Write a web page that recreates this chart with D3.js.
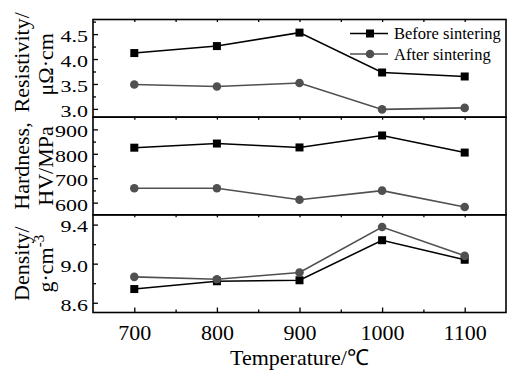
<!DOCTYPE html>
<html>
<head>
<meta charset="utf-8">
<script src="https://cdn.jsdelivr.net/npm/d3@7"></script>
<style>
  body { margin: 0; background: #fff; }
  svg { display: block; font-family: "Liberation Serif", "Times New Roman", serif; }
</style>
</head>
<body>
<div id="wrapper"></div>
<script>
// data
const temperatures = [700, 800, 900, 1000, 1100]
const resistivityBefore = [4.12, 4.26, 4.53, 3.73, 3.65]
const resistivityAfter = [3.49, 3.45, 3.52, 2.99, 3.02]
const hardnessBefore = [825, 842, 826, 875, 805]
const hardnessAfter = [659, 659, 612, 649, 582]
const densityBefore = [8.74, 8.82, 8.83, 9.24, 9.04]
const densityAfter = [8.865, 8.84, 8.91, 9.375, 9.08]
const xTicks = [700, 800, 900, 1000, 1100]
const seriesNames = ["Before sintering", "After sintering"]

const dimensions = {
  width: 507,
  height: 370,
  margin: { top: 19.5, right: 1, bottom: 57.5, left: 93 },
}
dimensions.boundedWidth = dimensions.width - dimensions.margin.left - dimensions.margin.right
dimensions.boundedHeight = dimensions.height - dimensions.margin.top - dimensions.margin.bottom
const panelHeight = dimensions.boundedHeight / 3

const colors = ["#000000", "#505050"]
const serif = "'Liberation Serif', 'Times New Roman', serif"

const wrapper = d3.select("#wrapper")
  .append("svg")
    .attr("width", dimensions.width)
    .attr("height", dimensions.height)

const bounds = wrapper.append("g")
  .attr("transform", `translate(${dimensions.margin.left}, ${dimensions.margin.top})`)

const xScale = d3.scaleLinear()
  .domain([650, 1150])
  .range([0, dimensions.boundedWidth])

const panels = [
  { before: resistivityBefore, after: resistivityAfter, domain: [2.834, 4.793],
    ticks: [3.0, 3.5, 4.0, 4.5], minor: [3.25, 3.75, 4.25, 4.75], fmt: d3.format(".1f"),
    title: ["Resistivity/", "μΩ·cm"] },
  { before: hardnessBefore, after: hardnessAfter, domain: [550, 950],
    ticks: [600, 700, 800, 900], minor: [650, 750, 850], fmt: d3.format("d"),
    title: ["Hardness,", "HV/MPa"] },
  { before: densityBefore, after: densityAfter, domain: [8.5, 9.5],
    ticks: [8.6, 9.0, 9.4], minor: [8.8, 9.2], fmt: d3.format(".1f"),
    title: ["Density/", "g·cm"] },
]

panels.forEach((p, i) => {
  const g = bounds.append("g")
    .attr("transform", `translate(0, ${i * panelHeight})`)

  const yScale = d3.scaleLinear()
    .domain(p.domain)
    .range([panelHeight, 0])

  // minor y ticks
  const yMinor = g.append("g")
    .call(d3.axisLeft(yScale).tickValues(p.minor).tickSize(-3).tickFormat(""))
  yMinor.select(".domain").remove()

  const yAxis = g.append("g")
    .call(d3.axisLeft(yScale).tickValues(p.ticks).tickSize(-5).tickPadding(5).tickFormat(p.fmt))
  yAxis.select(".domain").remove()
  yAxis.selectAll("text")
    .attr("font-size", 22)
    .attr("font-family", serif)
    .attr("fill", "#000")
    .attr("dy", "0.42em")
    .attr("transform", "scale(1, 0.8)")
  g.selectAll(".tick line").attr("stroke", "#000").attr("stroke-width", 1.3)

  // small ticks along panel top border
  const topTicks = g.append("g")
    .call(d3.axisTop(xScale).tickValues(d3.range(700, 1150, 50)).tickSize(-2.5).tickFormat(""))
  topTicks.select(".domain").remove()
  topTicks.selectAll("line").attr("stroke", "#000").attr("stroke-width", 1.2)

  // frame
  g.append("rect")
    .attr("x", 0).attr("y", 0)
    .attr("width", dimensions.boundedWidth)
    .attr("height", panelHeight)
    .attr("fill", "none")
    .attr("stroke", "#000")
    .attr("stroke-width", 1.6)

  const series = [p.before, p.after]
  series.forEach((values, s) => {
    const pts = temperatures.map((t, k) => [t, values[k]])
    const line = d3.line()
      .x(d => xScale(d[0]))
      .y(d => yScale(d[1]))
    g.append("path")
      .datum(pts)
      .attr("d", line)
      .attr("fill", "none")
      .attr("stroke", colors[s])
      .attr("stroke-width", 1.6)
    if (s === 0) {
      g.selectAll(".sq" + i)
        .data(pts)
        .enter().append("rect")
          .attr("x", d => xScale(d[0]) - 4)
          .attr("y", d => yScale(d[1]) - 4)
          .attr("width", 8)
          .attr("height", 8)
          .attr("fill", colors[0])
    } else {
      g.selectAll(".ci" + i)
        .data(pts)
        .enter().append("circle")
          .attr("cx", d => xScale(d[0]))
          .attr("cy", d => yScale(d[1]))
          .attr("r", 4.3)
          .attr("fill", colors[1])
    }
  })

  // y title, two rotated lines
  const cy = panelHeight / 2 + i * panelHeight + dimensions.margin.top
  wrapper.append("text")
    .attr("transform", `translate(29, ${cy - (i === 0 ? 6 : 0)}) rotate(-90)`)
    .attr("text-anchor", "middle")
    .attr("font-size", 22)
    .text(p.title[0])
  const t2 = wrapper.append("text")
    .attr("transform", `translate(53, ${cy - (i === 0 ? 4 : 0)}) rotate(-90)`)
    .attr("text-anchor", "middle")
    .attr("font-size", 22)
    .text(p.title[1])
  if (i === 2) {
    t2.append("tspan")
      .attr("font-size", 15)
      .attr("dy", "-0.6em")
      .text("-3")
  }
})

// bottom x axis
const xMinor = bounds.append("g")
  .attr("transform", `translate(0, ${dimensions.boundedHeight})`)
  .call(d3.axisBottom(xScale).tickValues([750, 850, 950, 1050]).tickSize(-3).tickFormat(""))
xMinor.select(".domain").remove()

const xAxis = bounds.append("g")
  .attr("transform", `translate(0, ${dimensions.boundedHeight})`)
  .call(d3.axisBottom(xScale).tickValues(xTicks).tickSize(-5).tickPadding(12).tickFormat(d3.format("d")))
xAxis.select(".domain").remove()
xAxis.selectAll("text")
  .attr("font-size", 22)
  .attr("font-family", serif)
  .attr("fill", "#000")
bounds.selectAll(".tick line").attr("stroke", "#000").attr("stroke-width", 1.3)

wrapper.append("text")
  .attr("x", dimensions.margin.left + dimensions.boundedWidth / 2)
  .attr("y", 365)
  .attr("text-anchor", "middle")
  .attr("font-size", 22)
  .text("Temperature/℃")

// legend
const legend = wrapper.append("g")
seriesNames.forEach((name, s) => {
  const ly = 33.5 + s * 20.5
  legend.append("line")
    .attr("x1", 350).attr("x2", 388)
    .attr("y1", ly).attr("y2", ly)
    .attr("stroke", colors[s])
    .attr("stroke-width", 1.6)
  if (s === 0) {
    legend.append("rect")
      .attr("x", 366).attr("y", ly - 4)
      .attr("width", 8).attr("height", 8)
      .attr("fill", colors[0])
  } else {
    legend.append("circle")
      .attr("cx", 370).attr("cy", ly)
      .attr("r", 4.3)
      .attr("fill", colors[1])
  }
  legend.append("text")
    .attr("x", 394)
    .attr("y", ly + 5.5)
    .attr("font-size", 16.5)
    .text(name)
})
</script>
</body>
</html>
